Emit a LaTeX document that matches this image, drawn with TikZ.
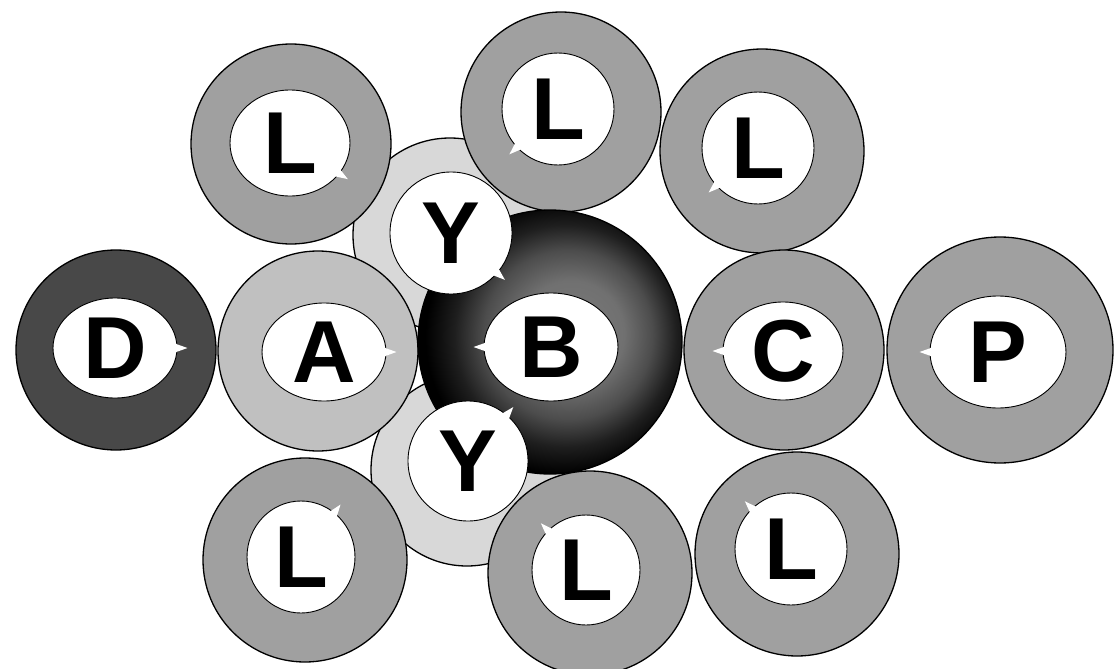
\documentclass[tikz,border=0pt]{standalone}
\usepackage{fontspec}
\setmainfont{Liberation Sans}
\usetikzlibrary{shapes.geometric}
\definecolor{ringgray}{RGB}{160,160,160}
\definecolor{lightring}{RGB}{192,192,192}
\definecolor{palering}{RGB}{216,216,216}
\definecolor{darkring}{RGB}{72,72,72}
\pgfdeclareradialshading{bshade}{\pgfpoint{5bp}{2bp}}{color(0bp)=(black!52); color(10bp)=(black!56); color(16bp)=(black!70); color(21bp)=(black!88); color(26bp)=(black); color(50bp)=(black)}
\tikzset{
  ring/.style={circle, draw=black, line width=1.3pt, inner sep=0pt, minimum size=#1},
  hole/.style 2 args={ellipse, draw=black, line width=0.9pt, fill=white, inner sep=0pt,
    minimum width=#1, minimum height=#2, font=\fontsize{88}{88}\selectfont\bfseries},
  notch/.style={fill=white}
}
\newcommand\notchat[2]{\fill[notch, shift={#1}, rotate=#2] (-4pt,5pt) -- (10pt,0pt) -- (-4pt,-5pt) -- cycle;}
\begin{document}
\begin{tikzpicture}[x=1pt,y=-1pt]
\useasboundingbox (0,0) rectangle (1114,669);
\fill[white] (0,0) rectangle (1114,669);
% pale circles behind the Y
\node[ring=194pt, fill=palering] (Yp1) at (450,235) {};
\node[ring=192pt, fill=palering] (Yp2) at (467,470) {};
% rings
\node[ring=200pt, fill=ringgray] (L1) at (291,144) {};
\node[ring=200pt, fill=ringgray] (L2) at (561,112) {};
\node[ring=204pt, fill=ringgray] (L3) at (762,151) {};
\node[ring=200pt, fill=darkring] (D) at (116,350) {};
\node[ring=200pt, fill=lightring] (A) at (318,351) {};
\node[ring=264pt, shading=bshade] (B) at (550,342) {};
\node[ring=200pt, fill=ringgray] (C) at (784,350) {};
\node[ring=226pt, fill=ringgray] (P) at (1000,350) {};
\node[ring=204pt, fill=ringgray] (L4) at (305,560) {};
\node[ring=204pt, fill=ringgray] (L5) at (590,573) {};
\node[ring=204pt, fill=ringgray] (L6) at (797,554) {};
% holes
\node[hole={120pt}{106pt}] (L1i) at (290,143) {L};
\node[hole={112pt}{112pt}] (L2i) at (558,109) {L};
\node[hole={112pt}{112pt}] (L3i) at (758,148) {L};
\node[hole={124pt}{100pt}] (Di) at (115,348) {D};
\node[hole={124pt}{98pt}] (Ai) at (324,352) {A};
\node[hole={134pt}{108pt}] (Bi) at (551,347) {B};
\node[hole={120pt}{98pt}] (Ci) at (783,351) {C};
\node[hole={136pt}{112pt}] (Pi) at (998,352) {P};
\node[hole={108pt}{112pt}] (L4i) at (301,557) {L};
\node[hole={108pt}{110pt}] (L5i) at (586,570) {L};
\node[hole={112pt}{112pt}] (L6i) at (791,549) {L};
\node[hole={122pt}{122pt}] (Y1) at (451,233) {Y};
\node[hole={120pt}{120pt}] (Y2) at (468,461) {Y};
% notches
\notchat{(Di.0)}{0}
\notchat{(Ai.0)}{0}
\notchat{(Bi.180)}{180}
\notchat{(Ci.180)}{180}
\notchat{(Pi.180)}{180}
\notchat{(Y1.-41)}{-41}
\notchat{(Y2.50)}{50}
\notchat{(L1i.-32)}{-32}
\notchat{(L2i.223)}{223}
\notchat{(L3i.222)}{222}
\notchat{(L4i.53)}{53}
\notchat{(L5i.134)}{134}
\notchat{(L6i.134)}{134}
\end{tikzpicture}
\end{document}
